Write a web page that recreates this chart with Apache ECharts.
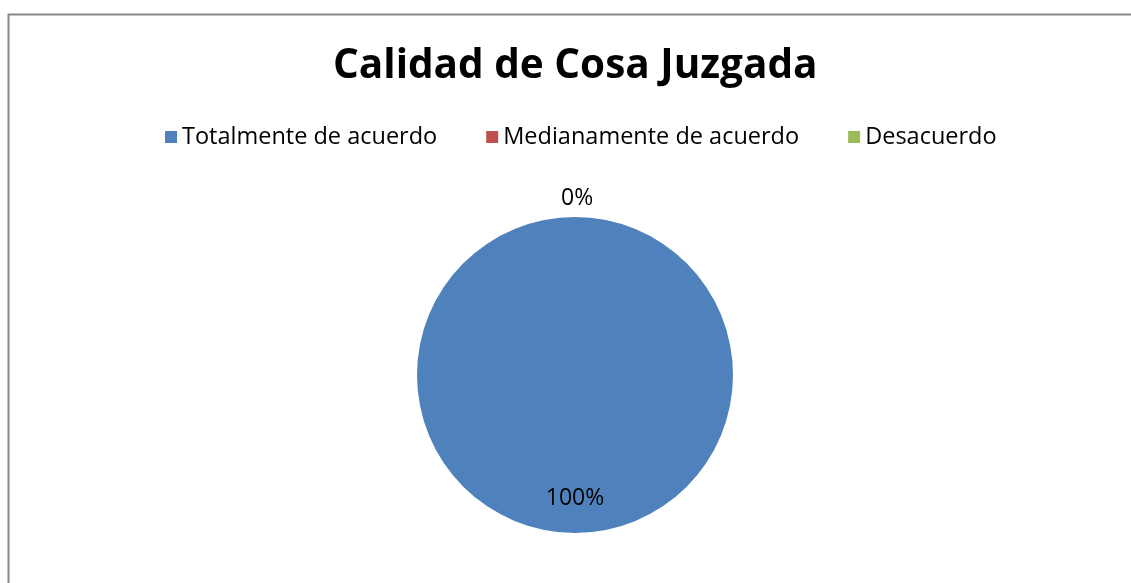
<!DOCTYPE html>
<html>
<head>
<meta charset="utf-8">
<script src="https://cdn.jsdelivr.net/npm/echarts@6/dist/echarts.min.js"></script>
<style>
    html, body { margin: 0; padding: 0; background: #fff; }
    #chart { width: 1131px; height: 583px; }
</style>
</head>
<body>
<div id="chart"></div>
<script>
// 数据
const categories = ['Totalmente de acuerdo', 'Medianamente de acuerdo', 'Desacuerdo'];
const values = [100, 0, 0];
const colors = ['#4F81BD', '#C0504D', '#9BBB59'];

document.addEventListener('DOMContentLoaded', function () {
    initPieChart();
});

function initPieChart() {
    const chartDom = document.getElementById('chart');
    const myChart = echarts.init(chartDom);

    const pieData = categories.map(function (name, i) {
        const item = { name: name, value: values[i], itemStyle: { color: colors[i] } };
        if (values[i] > 0) {
            // 标签放在扇区内部偏下
            item.label = { position: 'inside', offset: [0, 41] };
        } else {
            item.label = { position: 'outside', offset: [-19, -11] };
        }
        return item;
    });

    const option = {
        backgroundColor: '#fff',
        animation: false,
        title: {
            text: 'Calidad de Cosa Juzgada',
            left: 328,
            top: 41,
            textStyle: {
                fontFamily: 'Open Sans',
                fontWeight: 'bold',
                fontSize: 40.5,
                color: '#000'
            }
        },
        legend: {
            top: 120,
            left: 160,
            icon: 'rect',
            itemWidth: 12,
            itemHeight: 12,
            itemGap: 49,
            textStyle: {
                fontFamily: 'Open Sans',
                fontSize: 23.5,
                color: '#000'
            },
            data: categories
        },
        graphic: [{
            type: 'rect',
            left: 6,
            top: 12,
            shape: { width: 1200, height: 700 },
            style: { fill: 'none', stroke: '#888', lineWidth: 2 },
            silent: true
        }],
        series: [{
            type: 'pie',
            center: [575, 375],
            radius: 158,
            startAngle: 90,
            clockwise: true,
            avoidLabelOverlap: false,
            label: {
                show: true,
                formatter: '{d}%',
                fontFamily: 'Open Sans',
                fontSize: 23,
                color: '#000'
            },
            labelLine: { show: false, length: 8, length2: 0 },
            data: pieData
        }]
    };

    myChart.setOption(option);
}
</script>
</body>
</html>
